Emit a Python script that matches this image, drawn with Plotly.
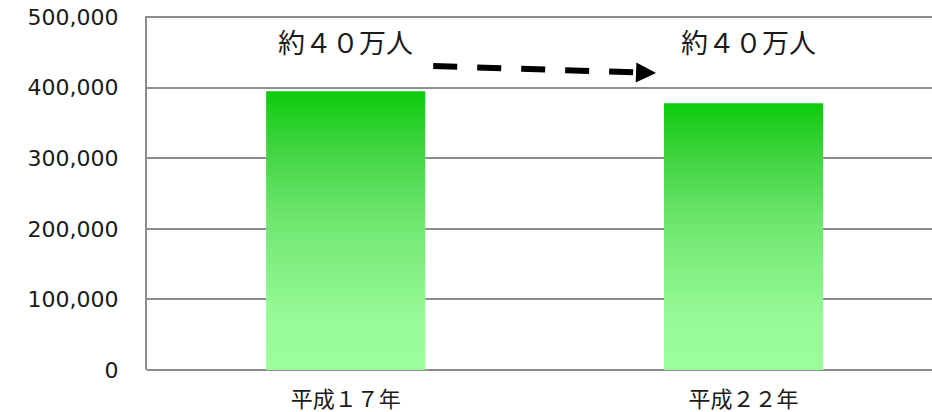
import plotly.graph_objects as go

# ---- data ----
categories = ["平成１７年", "平成２２年"]
values = [395000, 378000]
labels = ["約４０万人", "約４０万人"]
y_ticks = [0, 100000, 200000, 300000, 400000, 500000]

cat_pos = list(range(len(categories)))
half_w = 0.2

fig = go.Figure()

for xpos, v in zip(cat_pos, values):
    fig.add_trace(go.Scatter(
        x=[xpos - half_w, xpos + half_w, xpos + half_w, xpos - half_w, xpos - half_w],
        y=[0, 0, v, v, 0],
        mode="lines",
        line=dict(width=0, color="rgba(0,0,0,0)"),
        fill="toself",
        fillgradient=dict(
            type="vertical",
            start=0,
            stop=v,
            colorscale=[[0, "#9bff9b"], [0.2, "#96fa96"], [0.55, "#6ee66e"],
                        [0.8, "#3fd43f"], [1, "#0ccc0c"]],
        ),
        hoverinfo="skip",
        showlegend=False,
    ))

# value labels
for xpos, lab, dx in zip(cat_pos, labels, [0.0, 0.013]):
    fig.add_annotation(x=xpos + dx, y=465000, text=lab, showarrow=False,
                       font=dict(family="Noto Sans CJK JP", size=27, color="#1a1a1a"),
                       xanchor="center", yanchor="middle")

# dashed arrow
fig.add_shape(type="line", xref="x", yref="y",
              x0=0.22, y0=430600, x1=0.745, y1=421300,
              line=dict(color="black", width=6, dash="24px,20px"))
fig.add_annotation(x=0.78, y=420700, ax=0.735, ay=421500, xref="x", yref="y",
                   axref="x", ayref="y", text="", showarrow=True,
                   arrowhead=2, arrowsize=1, arrowwidth=4, arrowcolor="black")

fig.update_layout(
    width=932, height=412,
    margin=dict(l=147, r=0, t=16, b=42),
    plot_bgcolor="white", paper_bgcolor="white",
    showlegend=False,
)
fig.update_xaxes(
    range=[-0.4994, 1.4736],
    tickmode="array", tickvals=cat_pos, ticktext=categories,
    showgrid=False, zeroline=False, showline=False,
    tickfont=dict(family="Noto Sans CJK JP", size=22, color="#1a1a1a"),
    ticklabelstandoff=14,
)
fig.update_yaxes(
    range=[0, 501500],
    tickmode="array", tickvals=y_ticks, tickformat=",",
    showgrid=True, gridcolor="#8c8c8c", gridwidth=2,
    zeroline=True, zerolinecolor="#8c8c8c", zerolinewidth=2,
    showline=True, linecolor="#8c8c8c", linewidth=2,
    tickfont=dict(family="DejaVu Sans", size=22, color="#1a1a1a"),
    ticklabelstandoff=22,
)

fig.write_html("out.html", config={"displayModeBar": False},
               post_script="document.body.style.margin='0';")
